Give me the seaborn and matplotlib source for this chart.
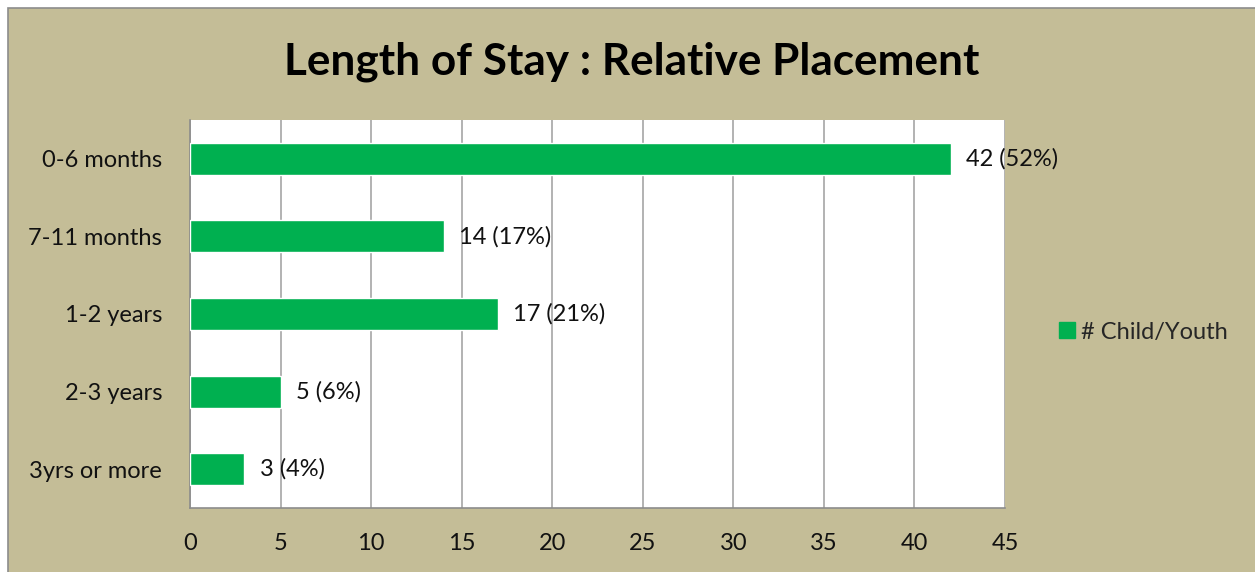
import matplotlib
matplotlib.use("Agg")
import matplotlib.pyplot as plt
import seaborn as sns
import pandas as pd
from matplotlib.patches import Rectangle
from matplotlib.lines import Line2D

categories = ["0-6 months", "7-11 months", "1-2 years", "2-3 years", "3yrs or more"]
counts = [42, 14, 17, 5, 3]
percents = ["52%", "17%", "21%", "6%", "4%"]
series_name = "# Child/Youth"
title = "Length of Stay : Relative Placement"
xticks = [0, 5, 10, 15, 20, 25, 30, 35, 40, 45]

df = pd.DataFrame({"Category": categories, "Count": counts})

sns.set_theme(style="white")
plt.rcParams['font.family'] = ['Lato', 'DejaVu Sans']

W, H = 1255, 572
fig = plt.figure(figsize=(W / 100, H / 100), dpi=100)
fig.patch.set_facecolor("white")
bg = "#C4BD97"
fig.patches.append(Rectangle((8 / W, -0.01), 1.01 - 8 / W, 1.01 - 8 / H, transform=fig.transFigure,
                             facecolor=bg, edgecolor="#8C8C8C", linewidth=1.2, zorder=-10))

fs = 17
left, right, top, bottom = 190, 1005, 120, 508
ax = fig.add_axes([left / W, 1 - bottom / H, (right - left) / W, (bottom - top) / H])
ax.set_facecolor("white")

sns.barplot(data=df, y="Category", x="Count", orient="h", color="#00B050",
            width=0.41, saturation=1, ax=ax, zorder=3)

ax.set_xlim(0, 45)
ax.set_ylim(len(categories) - 0.5, -0.5)
ax.set_xticks(xticks)
ax.set_xticklabels([str(t) for t in xticks], fontsize=fs, color="#111111")
ax.set_yticks(range(len(categories)))
ax.set_yticklabels(categories, fontsize=fs, color="#111111")
ax.set_yticks([i - 0.5 for i in range(len(categories) + 1)], minor=True)
ax.tick_params(axis="y", which="major", length=0, pad=20)
ax.tick_params(axis="y", which="minor", length=6, color="#8C8C8C", width=1.2, direction="out")
ax.tick_params(axis="x", which="major", length=6, color="#8C8C8C", width=1.2, direction="out", pad=12)
ax.set_xlabel("")
ax.set_ylabel("")
ax.grid(axis="x", color="#A6A6A6", linewidth=1.2, zorder=0)
ax.set_axisbelow(True)
for side in ["top", "right"]:
    ax.spines[side].set_visible(False)
for side in ["left", "bottom"]:
    ax.spines[side].set_color("#8C8C8C")
    ax.spines[side].set_linewidth(1.2)

for i, (c, p) in enumerate(zip(counts, percents)):
    ax.annotate(f"{c} ({p})", xy=(c, i), xytext=(11, 0), textcoords="offset points",
                ha="left", va="center", fontsize=fs, color="#111111", zorder=5)

fig.text(632 / W, 1 - 62 / H, title, ha="center", va="center", fontsize=31.8,
         fontweight="bold", color="#000000")

handle = Line2D([], [], marker="s", linestyle="none", markersize=12,
                markerfacecolor="#00B050", markeredgecolor="#00B050")
fig.legend([handle], [series_name], loc="center left", bbox_to_anchor=(1055 / W, 1 - 332 / H),
           frameon=False, fontsize=fs, handletextpad=0.1, handlelength=1.0,
           borderaxespad=0, borderpad=0)

fig.savefig("out.png", dpi=100, facecolor=fig.get_facecolor())
